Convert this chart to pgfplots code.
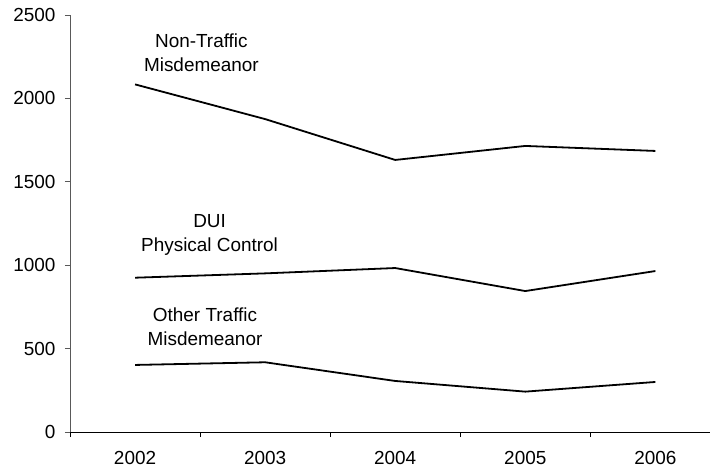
\documentclass[border=0pt]{standalone}
\usepackage{fontspec}
\setmainfont{Liberation Sans}
\usepackage{pgfplots}
\pgfplotsset{compat=1.18}
\begin{document}
\fontsize{19}{24}\selectfont
\begin{tikzpicture}
\begin{axis}[
  at={(0,0)}, anchor=south west,
  scale only axis, width=640bp, height=417bp,
  xmin=-0.5, xmax=4.42, ymin=0, ymax=2500,
  axis x line=bottom, axis y line=left,
  x axis line style={-, black, line width=1bp},
  y axis line style={-, gray!70!black, line width=0.8bp},
  ytick={0,500,...,2500},
  xtick={0,1,2,3,4}, xticklabels={2002,2003,2004,2005,2006},
  minor xtick={-0.5,0.5,1.5,2.5,3.5},
  major x tick style={draw=none},
  minor x tick style={black, line width=0.8bp},
  y tick style={gray!70!black, line width=0.8bp},
  tick align=outside, major tick length=5bp, minor tick length=5bp,
  xticklabel style={inner sep=0pt, yshift=-14bp},
  yticklabel style={xshift=-3bp},
  /pgf/number format/assume math mode=true,
  /pgf/number format/1000 sep={},
  scaled ticks=false,
  tick label style={font=\fontsize{19}{24}\selectfont},
]
\addplot[black, line width=1.8bp, mark=none] coordinates {(0,2084) (1,1876) (2,1631) (3,1715) (4,1685)};
\addplot[black, line width=1.8bp, mark=none] coordinates {(0,925) (1,951) (2,983) (3,845) (4,965)};
\addplot[black, line width=1.8bp, mark=none] coordinates {(0,402) (1,418) (2,306) (3,242) (4,300)};
\node[align=center, font=\fontsize{19}{24}\selectfont] at (axis cs:0.51,2272) {Non-Traffic\\Misdemeanor};
\node[align=center, font=\fontsize{19}{24}\selectfont] at (axis cs:0.573,1181) {DUI\\Physical Control};
\node[align=center, font=\fontsize{19}{24}\selectfont] at (axis cs:0.538,632) {Other Traffic\\Misdemeanor};
\end{axis}
\pgfresetboundingbox
\path[use as bounding box] (-70bp,-38bp) rectangle (640bp,432bp);
\end{tikzpicture}
\end{document}
